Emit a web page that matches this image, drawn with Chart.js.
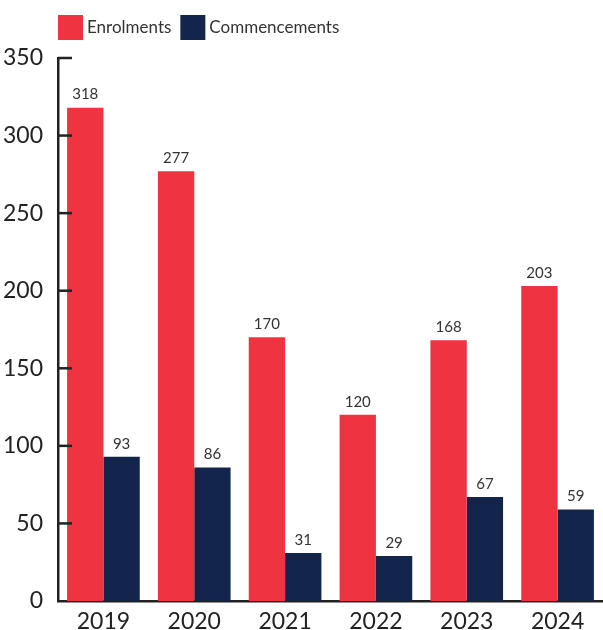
<!DOCTYPE html>
<html>
<head>
<meta charset="utf-8">
<script src="https://cdn.jsdelivr.net/npm/chart.js@4/dist/chart.umd.min.js"></script>
<style>
html,body{margin:0;padding:0;background:#fff;}
#wrap{width:603px;height:630px;}
</style>
</head>
<body>
<div id="wrap"><canvas id="c"></canvas></div>
<script>
// 在籍数と入学数（年次）
const years = ["2019","2020","2021","2022","2023","2024"];
const enrolments = [318,277,170,120,168,203];
const commencements = [93,86,31,29,67,59];
const yTicks = [0,50,100,150,200,250,300,350];

const RED = "#ef3340";
const NAVY = "#13254a";
const INK = "#222";

Chart.defaults.font.family = "Lato, 'DejaVu Sans', sans-serif";

// 棒の上に値を表示
const valueLabels = {
  id:"valueLabels",
  afterDatasetsDraw(chart){
    const ctx=chart.ctx;
    ctx.save();
    ctx.font="15px Lato";
    ctx.fillStyle="#333";
    ctx.textAlign="center";
    ctx.textBaseline="middle";
    chart.data.datasets.forEach(function(ds,i){
      chart.getDatasetMeta(i).data.forEach(function(bar,j){
        ctx.fillText(String(ds.data[j]),bar.x,bar.y-13);
      });
    });
    ctx.restore();
  }
};

// y軸の内向き目盛り
const innerTicks = {
  id:"innerTicks",
  afterDraw(chart){
    const s=chart.scales.y, ctx=chart.ctx;
    ctx.save();
    ctx.strokeStyle=INK;
    ctx.lineWidth=2.5;
    yTicks.forEach(function(v){
      if(v===0)return;
      const py=s.getPixelForValue(v);
      ctx.beginPath();ctx.moveTo(s.right,py);ctx.lineTo(s.right+14,py);ctx.stroke();
    });
    ctx.restore();
  }
};

// 凡例（左上）
const topLegend = {
  id:"topLegend",
  afterDraw(chart){
    const ctx=chart.ctx;
    let x=58;
    ctx.save();
    ctx.font="17px Lato";
    ctx.textBaseline="middle";
    chart.data.datasets.forEach(function(ds){
      ctx.fillStyle=ds.backgroundColor;
      ctx.fillRect(x,15,25,25);
      ctx.fillStyle="#333";
      ctx.fillText(ds.label,x+29,28);
      x+=29+ctx.measureText(ds.label).width+9;
    });
    ctx.restore();
  }
};

new Chart(document.getElementById("c"),{
  type:"bar",
  data:{labels:years,datasets:[
    {label:"Enrolments",data:enrolments,backgroundColor:RED,categoryPercentage:0.8,barPercentage:1},
    {label:"Commencements",data:commencements,backgroundColor:NAVY,categoryPercentage:0.8,barPercentage:1}
  ]},
  options:{
    responsive:true,maintainAspectRatio:false,animation:false,
    layout:{padding:{top:58,right:0,bottom:0,left:0}},
    plugins:{legend:{display:false},tooltip:{enabled:false}},
    scales:{
      x:{grid:{display:false},border:{display:true,color:INK,width:2.5},
        afterFit(s){s.height=29;},
        ticks:{color:INK,font:{size:23,lineHeight:1},padding:1}},
      y:{min:0,max:350,grid:{display:false},border:{display:true,color:INK,width:2.5},
        afterBuildTicks(s){s.ticks=yTicks.map(function(v){return {value:v};});},
        afterFit(s){s.width=58;s.paddingTop=0;},
        ticks:{color:INK,font:{size:23},padding:7}}
    }
  },
  plugins:[valueLabels,innerTicks,topLegend]
});
</script>
</body>
</html>
